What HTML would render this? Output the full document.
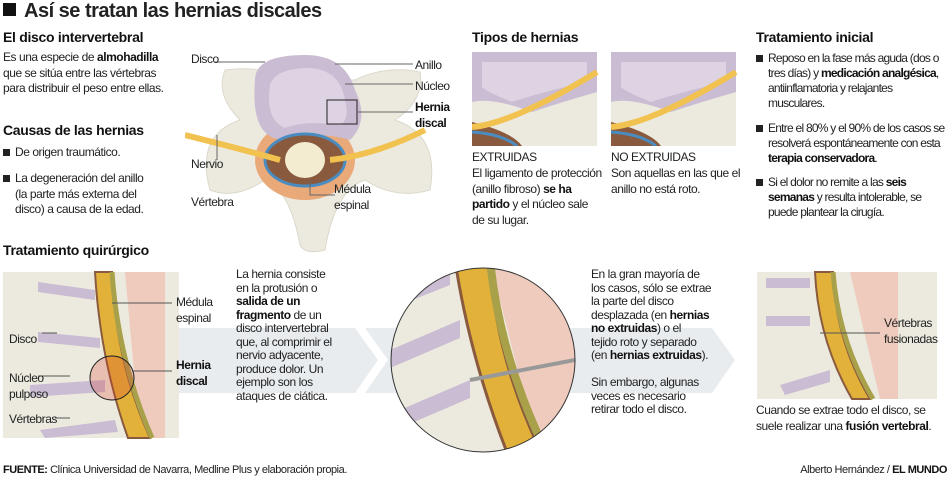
<!DOCTYPE html>
<html><head><meta charset="utf-8"><style>
body{margin:0;width:950px;height:478px;background:#fff;position:relative;overflow:hidden;font-family:"Liberation Sans",sans-serif;color:#222;font-size:12px;line-height:15.5px;letter-spacing:-0.45px}
.a{position:absolute;white-space:nowrap}
h2{position:absolute;margin:0;font-size:14px;font-weight:bold;color:#111;letter-spacing:-0.3px;white-space:nowrap}
b{color:#111}
.bl{position:absolute;padding-left:12px;white-space:nowrap}
.bl:before{content:"";position:absolute;left:0;top:4px;width:7px;height:7px;background:#222}
.t{line-height:13.5px}
.n{letter-spacing:-0.75px}
</style></head><body>
<div class="a" style="left:3px;top:3px;width:13px;height:13px;background:#111"></div>
<div class="a" style="left:24px;top:0px;font-size:20px;line-height:22px;font-weight:bold;letter-spacing:-0.5px">Así se tratan las hernias discales</div>

<h2 style="left:3px;top:30px">El disco intervertebral</h2>
<div class="a" style="left:3px;top:50px">Es una especie de <b>almohadilla</b><br>que se sitúa entre las vértebras<br>para distribuir el peso entre ellas.</div>
<h2 style="left:3px;top:123px">Causas de las hernias</h2>
<div class="bl" style="left:3px;top:145px">De origen traumático.</div>
<div class="bl" style="left:3px;top:171px">La degeneración del anillo<br>(la parte más externa del<br>disco) a causa de la edad.</div>

<svg class="a" style="left:185px;top:40px" width="280" height="215">
<path d="M40 30 Q80 25 100 40 L170 40 Q200 25 235 32 Q240 60 210 80 Q255 95 245 150 Q210 160 180 140 Q150 150 140 210 Q120 215 115 205 Q105 150 80 140 Q50 160 25 150 Q10 95 55 80 Q30 55 40 30Z" fill="#eceadf" stroke="#dcd9cc"/>
<ellipse cx="120" cy="120" rx="50" ry="40" fill="#eaa979"/>
<path d="M70 40 Q70 15 120 15 Q160 15 170 50 Q185 80 165 100 Q130 90 100 100 Q65 100 70 40Z" fill="#c9bcd3"/>
<path d="M85 45 Q90 28 125 28 Q155 30 160 60 Q165 80 155 85 Q120 80 100 88 Q80 80 85 45Z" fill="#ddd3e2"/>
<ellipse cx="120" cy="120" rx="40" ry="26" fill="#8a5a3e" stroke="#4a8cc0" stroke-width="3"/>
<ellipse cx="120" cy="120" rx="20" ry="18" fill="#f3ecd0"/>
<path d="M0 95 Q60 110 95 120 M240 90 Q190 115 145 120" stroke="#f2c250" stroke-width="6" fill="none"/>
<rect x="142" y="60" width="30" height="24" fill="none" stroke="#222"/>
<path d="M30 22 H80 M150 24 H228 M160 44 H228 M172 72 H228 M32 95 V120 M-1 130 V160 M125 140 V155 H150" stroke="#666" fill="none"/>
</svg>
<div class="a" style="left:191px;top:52px">Disco</div>
<div class="a" style="left:415px;top:58px">Anillo</div>
<div class="a" style="left:415px;top:79px">Núcleo</div>
<div class="a" style="left:415px;top:100px;font-weight:bold;color:#111">Hernia<br>discal</div>
<div class="a" style="left:191px;top:157px">Nervio</div>
<div class="a" style="left:191px;top:195px">Vértebra</div>
<div class="a" style="left:334px;top:182px">Médula<br>espinal</div>

<h2 style="left:472px;top:30px">Tipos de hernias</h2>
<svg class="a" style="left:472px;top:52px" width="265" height="94">
<g><rect width="125" height="94" fill="#eceadf"/><path d="M0 0 H125 V40 Q90 50 60 60 Q20 45 0 50Z" fill="#c9bcd3"/><path d="M10 10 H115 V30 Q70 40 40 50 Q15 40 10 35Z" fill="#ddd3e2"/><path d="M0 70 Q40 80 50 94 H0Z" fill="#8a5a3e"/><path d="M0 75 Q40 72 125 20" stroke="#f2c250" stroke-width="6" fill="none"/><path d="M0 80 Q30 82 45 94" stroke="#4a8cc0" stroke-width="3" fill="none"/></g>
<g transform="translate(139 0)"><rect width="125" height="94" fill="#eceadf"/><path d="M0 0 H125 V40 Q90 50 60 60 Q20 45 0 50Z" fill="#c9bcd3"/><path d="M10 10 H115 V30 Q70 40 40 50 Q15 40 10 35Z" fill="#ddd3e2"/><path d="M0 70 Q40 80 50 94 H0Z" fill="#8a5a3e"/><path d="M0 75 Q40 72 125 20" stroke="#f2c250" stroke-width="6" fill="none"/><path d="M0 80 Q30 82 45 94" stroke="#4a8cc0" stroke-width="3" fill="none"/></g>
</svg>
<div class="a" style="left:472px;top:150px">EXTRUIDAS</div>
<div class="a" style="left:472px;top:166px">El ligamento de protección<br>(anillo fibroso) <b>se ha</b><br><b>partido</b> y el núcleo sale<br>de su lugar.</div>
<div class="a" style="left:611px;top:150px">NO EXTRUIDAS</div>
<div class="a" style="left:611px;top:166px">Son aquellas en las que el<br>anillo no está roto.</div>

<h2 style="left:756px;top:30px">Tratamiento inicial</h2>
<div class="bl n" style="left:756px;top:51px;line-height:15px">Reposo en la fase más aguda (dos o<br>tres días) y <b>medicación analgésica</b>,<br>antiinflamatoria y relajantes<br>musculares.</div>
<div class="bl n" style="left:756px;top:121px;line-height:15px">Entre el 80% y el 90% de los casos se<br>resolverá espontáneamente con esta<br><b>terapia conservadora</b>.</div>
<div class="bl n" style="left:756px;top:175px;line-height:15px">Si el dolor no remite a las <b>seis</b><br><b>semanas</b> y resulta intolerable, se<br>puede plantear la cirugía.</div>

<h2 style="left:3px;top:243px">Tratamiento quirúrgico</h2>
<svg class="a" style="left:0;top:260px" width="950" height="200">
<path d="M165 68 H355 L378 100 L355 133 H165Z" fill="#e8ecef"/>
<path d="M365 68 H712 L735 100 L712 133 H365 L388 100Z" fill="#e8ecef"/>
<g>
<rect x="3" y="12" width="176" height="166" fill="#eceadf"/>
<path d="M125 12 H165 V178 H140Z" fill="#eecbbd"/>
<path d="M38 22 L95 30 L95 40 L38 32Z M38 72 L100 78 L100 88 L38 82Z M30 125 L105 120 L105 132 L30 137Z M40 170 L115 160 L118 172 L45 178Z" fill="#c9bcd3"/>
<path d="M95 12 L112 12 Q115 100 150 178 L128 178 Q100 100 95 12Z" fill="#e2b13a" stroke="#8a5a3e" stroke-width="2"/>
<path d="M112 12 Q118 100 152 178" stroke="#a9a04a" stroke-width="5" fill="none"/>
<circle cx="112" cy="118" r="22" fill="rgba(220,60,40,.25)" stroke="#222"/>
<path d="M42 73 H57 M38 116 H70 M55 158 H70 M112 43 H172 M132 111 H172" stroke="#555"/>
</g>
<g>
<clipPath id="c"><circle cx="483" cy="100" r="92"/></clipPath>
<g clip-path="url(#c)"><rect x="390" y="0" width="190" height="200" fill="#eceadf"/>
<path d="M490 0 H580 V200 H540Z" fill="#eecbbd"/>
<path d="M390 90 L460 60 L460 78 L390 108Z M400 150 L470 120 L470 138 L400 168Z M400 30 L450 10 L450 25 L400 45Z" fill="#c9bcd3"/>
<path d="M455 0 L490 0 Q495 100 545 200 L510 200 Q470 100 455 0Z" fill="#e2b13a" stroke="#8a5a3e" stroke-width="3"/>
<path d="M490 0 Q500 100 550 200" stroke="#a9a04a" stroke-width="8" fill="none"/>
<path d="M470 120 L575 100" stroke="#999" stroke-width="4"/></g>
<circle cx="483" cy="100" r="92" fill="none" stroke="#333"/>
</g>
<g>
<rect x="757" y="12" width="180" height="127" fill="#eceadf"/>
<path d="M850 12 H898 V139 H880Z" fill="#eecbbd"/>
<path d="M766 18 L810 18 L810 28 L766 28Z M766 56 L810 56 L810 66 L766 66Z M780 125 L830 110 L830 122 L785 135Z" fill="#c9bcd3"/>
<path d="M815 12 L833 12 Q835 80 870 139 L852 139 Q818 80 815 12Z" fill="#e2b13a" stroke="#8a5a3e" stroke-width="2"/>
<path d="M833 12 Q838 80 873 139" stroke="#a9a04a" stroke-width="5" fill="none"/>
<path d="M820 73 H880" stroke="#555"/>
</g>
</svg>
<div class="a" style="left:176px;top:295px">Médula<br>espinal</div>
<div class="a" style="left:176px;top:358px;font-weight:bold;color:#111">Hernia<br>discal</div>
<div class="a" style="left:9px;top:332px">Disco</div>
<div class="a" style="left:9px;top:371px">Núcleo<br>pulposo</div>
<div class="a" style="left:9px;top:412px">Vértebras</div>
<div class="a t" style="left:236px;top:268px">La hernia consiste<br>en la protusión o<br><b>salida de un</b><br><b>fragmento</b> de un<br>disco intervertebral<br>que, al comprimir el<br>nervio adyacente,<br>produce dolor. Un<br>ejemplo son los<br>ataques de ciática.</div>
<div class="a t" style="left:591px;top:268px">En la gran mayoría de<br>los casos, sólo se extrae<br>la parte del disco<br>desplazada (en <b>hernias</b><br><b>no extruidas</b>) o el<br>tejido roto y separado<br>(en <b>hernias extruidas</b>).<br><br>Sin embargo, algunas<br>veces es necesario<br>retirar todo el disco.</div>
<div class="a" style="left:884px;top:316px">Vértebras<br>fusionadas</div>
<div class="a" style="left:756px;top:403px">Cuando se extrae todo el disco, se<br>suele realizar una <b>fusión vertebral</b>.</div>

<div class="a" style="left:3px;top:463px;font-size:11px"><b>FUENTE:</b> Clínica Universidad de Navarra, Medline Plus y elaboración propia.</div>
<div class="a" style="right:3px;top:463px;font-size:11px">Alberto Hernández / <b>EL MUNDO</b></div>
</body></html>
